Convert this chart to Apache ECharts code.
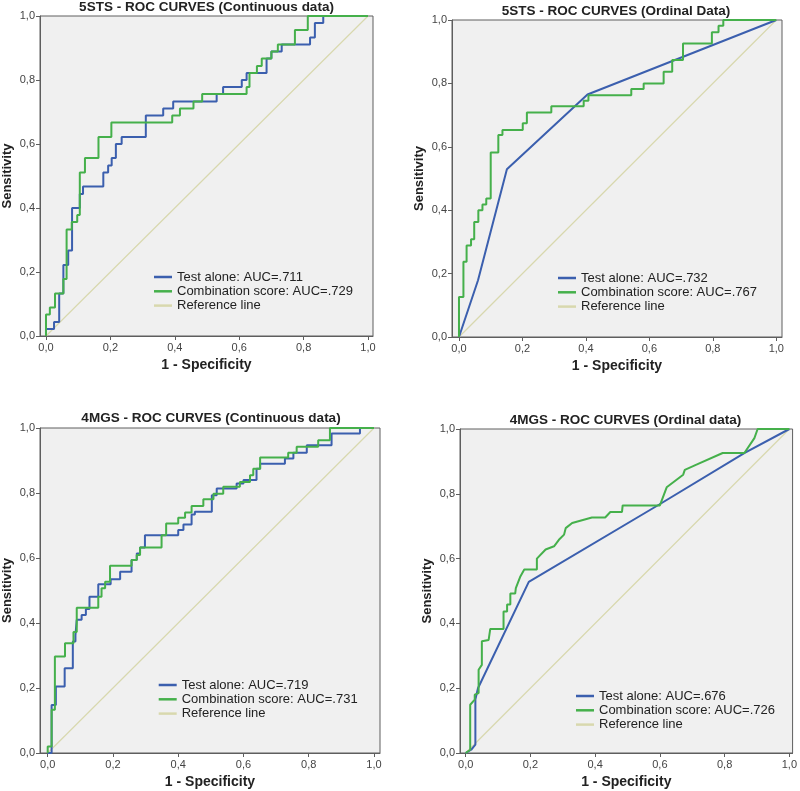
<!DOCTYPE html>
<html>
<head>
<meta charset="utf-8">
<script src="https://cdn.jsdelivr.net/npm/echarts@6/dist/echarts.min.js"></script>
<style>html,body{margin:0;padding:0;background:#fff;}#chart{width:800px;height:791px;}</style>
</head>
<body>
<div id="chart"></div>
<script>
// ---- data ----
const tickValues = [0, 0.2, 0.4, 0.6, 0.8, 1.0];
const titles = [
  '5STS - ROC CURVES (Continuous data)',
  '5STS - ROC CURVES (Ordinal Data)',
  '4MGS - ROC CURVES (Continuous data)',
  '4MGS - ROC CURVES (Ordinal data)'
];
const testAloneNames = ['Test alone: AUC=.711', 'Test alone: AUC=.732', 'Test alone: AUC=.719', 'Test alone: AUC=.676'];
const combinationNames = ['Combination score: AUC=.729', 'Combination score: AUC=.767', 'Combination score: AUC=.731', 'Combination score: AUC=.726'];
const referenceName = 'Reference line';
const referenceLine = [[0, 0], [1, 1]];

const test5stsCont = [[0,0],[0,0.022],[0.025,0.022],[0.025,0.044],[0.041,0.044],[0.041,0.133],[0.054,0.133],[0.054,0.222],[0.069,0.222],[0.069,0.267],[0.081,0.267],[0.081,0.40],[0.105,0.40],[0.105,0.444],[0.115,0.444],[0.115,0.467],[0.178,0.467],[0.178,0.511],[0.193,0.511],[0.193,0.533],[0.204,0.533],[0.204,0.556],[0.217,0.556],[0.217,0.60],[0.235,0.60],[0.235,0.622],[0.31,0.622],[0.31,0.689],[0.364,0.689],[0.364,0.711],[0.395,0.711],[0.395,0.733],[0.53,0.733],[0.53,0.756],[0.55,0.756],[0.55,0.778],[0.608,0.778],[0.608,0.80],[0.623,0.80],[0.623,0.822],[0.685,0.822],[0.685,0.867],[0.70,0.867],[0.70,0.889],[0.732,0.889],[0.732,0.911],[0.82,0.911],[0.82,0.933],[0.835,0.933],[0.835,0.978],[0.861,0.978],[0.861,1.0],[1,1]];
const comb5stsCont = [[0,0],[0,0.067],[0.012,0.067],[0.012,0.089],[0.028,0.089],[0.028,0.133],[0.054,0.133],[0.054,0.178],[0.064,0.178],[0.064,0.333],[0.08,0.333],[0.08,0.356],[0.097,0.356],[0.097,0.378],[0.105,0.378],[0.105,0.511],[0.121,0.511],[0.121,0.556],[0.163,0.556],[0.163,0.622],[0.203,0.622],[0.203,0.667],[0.392,0.667],[0.392,0.689],[0.416,0.689],[0.416,0.711],[0.458,0.711],[0.458,0.733],[0.485,0.733],[0.485,0.756],[0.623,0.756],[0.623,0.778],[0.632,0.778],[0.632,0.822],[0.655,0.822],[0.655,0.844],[0.67,0.844],[0.67,0.867],[0.70,0.867],[0.70,0.889],[0.72,0.889],[0.72,0.911],[0.773,0.911],[0.773,0.956],[0.813,0.956],[0.813,1.0],[1,1]];

const test5stsOrd = [[0,0],[0.06,0.179],[0.151,0.529],[0.405,0.765],[1,1]];
const comb5stsOrd = [[0,0],[0,0.126],[0.014,0.126],[0.014,0.237],[0.024,0.237],[0.024,0.289],[0.038,0.289],[0.038,0.308],[0.048,0.308],[0.048,0.363],[0.061,0.363],[0.061,0.40],[0.074,0.40],[0.074,0.418],[0.086,0.418],[0.086,0.437],[0.10,0.437],[0.10,0.582],[0.124,0.582],[0.124,0.637],[0.137,0.637],[0.137,0.653],[0.201,0.653],[0.201,0.674],[0.214,0.674],[0.214,0.708],[0.291,0.708],[0.291,0.728],[0.393,0.728],[0.393,0.745],[0.408,0.745],[0.408,0.763],[0.543,0.763],[0.543,0.782],[0.582,0.782],[0.582,0.80],[0.645,0.80],[0.645,0.837],[0.672,0.837],[0.672,0.874],[0.706,0.874],[0.706,0.926],[0.797,0.926],[0.797,0.961],[0.818,0.961],[0.818,0.982],[0.833,0.982],[0.833,1.0],[1,1]];

const test4mgsCont = [[0,0],[0.012,0],[0.012,0.148],[0.025,0.148],[0.025,0.205],[0.052,0.205],[0.052,0.261],[0.077,0.261],[0.077,0.343],[0.085,0.343],[0.085,0.362],[0.089,0.362],[0.089,0.41],[0.104,0.41],[0.104,0.425],[0.117,0.425],[0.117,0.443],[0.128,0.443],[0.128,0.481],[0.155,0.481],[0.155,0.519],[0.193,0.519],[0.193,0.535],[0.222,0.535],[0.222,0.558],[0.257,0.558],[0.257,0.594],[0.273,0.594],[0.273,0.614],[0.283,0.614],[0.283,0.632],[0.298,0.632],[0.298,0.67],[0.40,0.67],[0.40,0.686],[0.416,0.686],[0.416,0.703],[0.441,0.703],[0.441,0.734],[0.451,0.734],[0.451,0.742],[0.503,0.742],[0.503,0.793],[0.518,0.793],[0.518,0.814],[0.579,0.814],[0.579,0.829],[0.60,0.829],[0.60,0.84],[0.64,0.84],[0.64,0.875],[0.651,0.875],[0.651,0.89],[0.727,0.89],[0.727,0.906],[0.753,0.906],[0.753,0.924],[0.794,0.924],[0.794,0.947],[0.87,0.947],[0.87,0.983],[0.957,0.983],[0.957,1.0],[1,1]];
const comb4mgsCont = [[0,0],[0,0.02],[0.012,0.02],[0.012,0.133],[0.022,0.133],[0.022,0.297],[0.053,0.297],[0.053,0.338],[0.079,0.338],[0.079,0.372],[0.089,0.372],[0.089,0.447],[0.155,0.447],[0.155,0.481],[0.165,0.481],[0.165,0.507],[0.176,0.507],[0.176,0.527],[0.191,0.527],[0.191,0.576],[0.257,0.576],[0.257,0.594],[0.273,0.594],[0.273,0.609],[0.283,0.609],[0.283,0.632],[0.349,0.632],[0.349,0.67],[0.363,0.67],[0.363,0.706],[0.40,0.706],[0.40,0.724],[0.421,0.724],[0.421,0.74],[0.441,0.74],[0.441,0.76],[0.477,0.76],[0.477,0.781],[0.508,0.781],[0.508,0.798],[0.538,0.798],[0.538,0.819],[0.589,0.819],[0.589,0.834],[0.62,0.834],[0.62,0.855],[0.63,0.855],[0.63,0.875],[0.651,0.875],[0.651,0.909],[0.737,0.909],[0.737,0.924],[0.763,0.924],[0.763,0.942],[0.829,0.942],[0.829,0.962],[0.865,0.962],[0.865,1.0],[1,1]];

const test4mgsOrd = [[0,0],[0.017,0.01],[0.03,0.026],[0.03,0.165],[0.038,0.20],[0.195,0.528],[0.598,0.767],[0.862,0.926],[1,1]];
const comb4mgsOrd = [[0,0],[0.014,0.01],[0.014,0.149],[0.028,0.165],[0.028,0.18],[0.04,0.185],[0.04,0.257],[0.05,0.272],[0.05,0.345],[0.071,0.349],[0.076,0.383],[0.117,0.383],[0.117,0.437],[0.128,0.437],[0.128,0.458],[0.138,0.458],[0.138,0.492],[0.153,0.492],[0.155,0.509],[0.169,0.545],[0.181,0.566],[0.22,0.566],[0.22,0.60],[0.247,0.628],[0.273,0.638],[0.288,0.658],[0.304,0.674],[0.309,0.694],[0.329,0.71],[0.39,0.727],[0.431,0.727],[0.447,0.744],[0.483,0.744],[0.485,0.764],[0.60,0.764],[0.621,0.82],[0.672,0.859],[0.677,0.874],[0.713,0.89],[0.794,0.926],[0.861,0.926],[0.892,0.972],[0.902,1.0],[1,1]];

const testSeries = [test5stsCont, test5stsOrd, test4mgsCont, test4mgsOrd];
const combSeries = [comb5stsCont, comb5stsOrd, comb4mgsCont, comb4mgsOrd];

// ---- layout / style ----
const FONT = '"Liberation Sans", Arial, sans-serif';
const BLUE = '#3b5fae', GREEN = '#45b04b', REF = '#d8d8ae';
const layout = [
  { grid: {left: 40, top: 16, width: 333, height: 320}, xMin: -0.0186, xMax: 1.0155, title: [206.5, 7.5], legend: [154, 270] },
  { grid: {left: 452, top: 20, width: 330, height: 317}, xMin: -0.022, xMax: 1.018, title: [616, 11.7], legend: [558, 271] },
  { grid: {left: 40, top: 428, width: 340, height: 325}, xMin: -0.0236, xMax: 1.0184, title: [211, 418.3], legend: [158.7, 678] },
  { grid: {left: 460, top: 429, width: 335, height: 324}, xMin: -0.0175, xMax: 1.010, title: [625.5, 420], legend: [576, 689] }
];
const fmt = v => v.toFixed(1).replace('.', ',');

const option = {
  animation: false,
  backgroundColor: '#ffffff',
  textStyle: { fontFamily: FONT },
  title: [], grid: [], xAxis: [], yAxis: [], legend: [], series: []
};

layout.forEach((L, i) => {
  option.title.push({
    text: titles[i], left: L.title[0], top: L.title[1] - 8, textAlign: 'center', padding: 0,
    textStyle: { fontFamily: FONT, fontSize: 13.5, fontWeight: 'bold', color: '#222', lineHeight: 16 }
  });
  option.grid.push(Object.assign({ show: true, backgroundColor: '#f0f0f0', borderColor: '#5e5e5e', borderWidth: 1 }, L.grid));
  option.xAxis.push({
    gridIndex: i, type: 'value', min: L.xMin, max: L.xMax,
    axisLine: { show: true, onZero: false, lineStyle: { color: '#5e5e5e' } },
    axisTick: { show: true, customValues: tickValues, length: 4, lineStyle: { color: '#5e5e5e' } },
    axisLabel: { customValues: tickValues, formatter: fmt, fontSize: 11, color: '#444', margin: 6, fontFamily: FONT },
    splitLine: { show: false },
    name: '1 - Specificity', nameLocation: 'middle', nameGap: 22,
    nameTextStyle: { fontFamily: FONT, fontWeight: 'bold', fontSize: 14, color: '#222' }
  });
  option.yAxis.push({
    gridIndex: i, type: 'value', min: 0, max: 1,
    axisLine: { show: true, onZero: false, lineStyle: { color: '#5e5e5e' } },
    axisTick: { show: true, customValues: tickValues, length: 4, lineStyle: { color: '#5e5e5e' } },
    axisLabel: { customValues: tickValues, formatter: fmt, fontSize: 11, color: '#444', margin: 5, fontFamily: FONT },
    splitLine: { show: false },
    name: 'Sensitivity', nameLocation: 'middle', nameGap: 26, nameRotate: 90,
    nameTextStyle: { fontFamily: FONT, fontWeight: 'bold', fontSize: 13, color: '#222' }
  });
  option.legend.push({
    orient: 'vertical', left: L.legend[0], top: L.legend[1], padding: 0,
    icon: 'rect', itemWidth: 18, itemHeight: 2.5, itemGap: 0.3, selectedMode: false,
    textStyle: { fontFamily: FONT, fontSize: 13, color: '#222', lineHeight: 14 },
    data: [testAloneNames[i], combinationNames[i], referenceName]
  });
  option.series.push({
    name: referenceName, type: 'line', xAxisIndex: i, yAxisIndex: i, data: referenceLine,
    symbol: 'none', lineStyle: { color: REF, width: 1.2 }, itemStyle: { color: REF }, z: 1, silent: true
  });
  option.series.push({
    name: testAloneNames[i], type: 'line', xAxisIndex: i, yAxisIndex: i, data: testSeries[i],
    symbol: 'none', lineStyle: { color: BLUE, width: 2 }, itemStyle: { color: BLUE }, z: 2
  });
  option.series.push({
    name: combinationNames[i], type: 'line', xAxisIndex: i, yAxisIndex: i, data: combSeries[i],
    symbol: 'none', lineStyle: { color: GREEN, width: 2 }, itemStyle: { color: GREEN }, z: 3
  });
});

const chart = echarts.init(document.getElementById('chart'), null, { renderer: 'canvas' });
chart.setOption(option);
</script>
</body>
</html>
